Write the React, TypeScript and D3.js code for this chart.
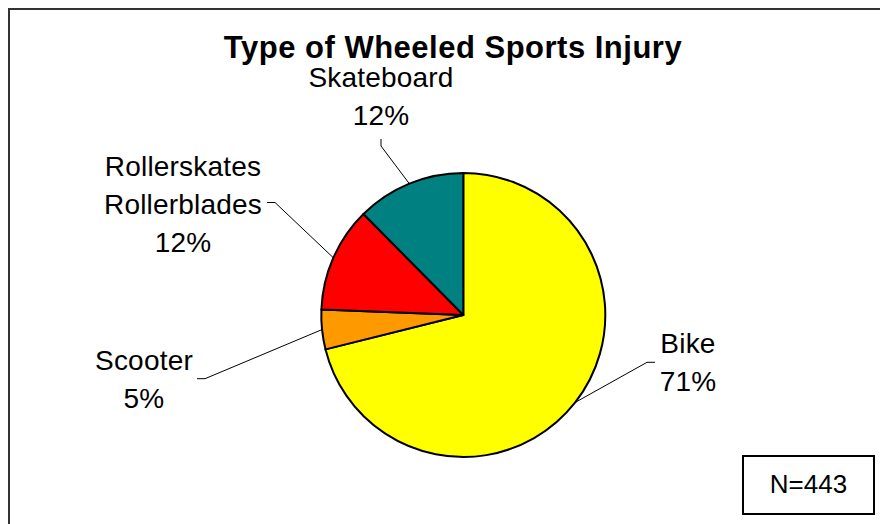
import React from "react";
import * as d3 from "d3";

const categories = ["Bike", "Scooter", "Rollerskates\nRollerblades", "Skateboard"];
const counts = [315, 20, 53, 55];
const percentLabels = ["71%", "5%", "12%", "12%"];
const colors = ["#FFFF00", "#FF9900", "#FF0000", "#008080"];
const title = "Type of Wheeled Sports Injury";
const note = "N=443";

// layout (label anchors and leader-line elbows)
const W = 880;
const H = 524;
const cx = 463.3;
const cy = 315;
const R = 142;
const labelLayout = [
  { x: 688, y: 353.3, elbow: [[655, 362.3], [647, 362.3]] },
  { x: 144, y: 370, elbow: [[197, 378.7], [205, 378.7]] },
  { x: 183, y: 176, elbow: [[267, 202.5], [275, 202.5]] },
  { x: 381, y: 87.3, elbow: [[381, 139], [381, 146]] },
];
const lineH = 38;
const font = "'Liberation Sans', Arial, Helvetica, sans-serif";

export default function App() {
  const pie = d3.pie<number>().sort(null).value((d) => d);
  const arcs = pie(counts);
  const arc = d3.arc<d3.PieArcDatum<number>>().innerRadius(0).outerRadius(R);

  return (
    <svg
      width={W}
      height={H}
      style={{ position: "absolute", left: 0, top: 0, background: "#fff" }}
    >
      <rect x={0} y={0} width={W} height={H} fill="#fff" />
      <rect
        x={9}
        y={9}
        width={W + 10}
        height={H + 10}
        fill="none"
        stroke="#333"
        strokeWidth={2}
      />
      <text
        x={453}
        y={58.3}
        textAnchor="middle"
        fontFamily={font}
        fontWeight="bold"
        fontSize={31}
        letterSpacing={0.5}
        fill="#000"
      >
        {title}
      </text>
      <g transform={`translate(${cx},${cy})`}>
        {arcs.map((a, i) => (
          <path
            key={i}
            d={arc(a) || ""}
            fill={colors[i]}
            stroke="#000"
            strokeWidth={2}
            strokeLinejoin="round"
          />
        ))}
      </g>
      {arcs.map((a, i) => {
        const mid = (a.startAngle + a.endAngle) / 2;
        const px = cx + R * Math.sin(mid);
        const py = cy - R * Math.cos(mid);
        const L = labelLayout[i];
        const pts = [...L.elbow, [px, py]];
        const lines = [...categories[i].split("\n"), percentLabels[i]];
        return (
          <g key={i}>
            <polyline
              points={pts.map((p) => p.join(",")).join(" ")}
              fill="none"
              stroke="#000"
              strokeWidth={1}
            />
            <text
              textAnchor="middle"
              fontFamily={font}
              fontSize={28}
              letterSpacing={0.2}
              fill="#000"
            >
              {lines.map((t, j) => (
                <tspan key={j} x={L.x} y={L.y + j * lineH}>
                  {t}
                </tspan>
              ))}
            </text>
          </g>
        );
      })}
      <rect
        x={743}
        y={456}
        width={131}
        height={58}
        fill="#fff"
        stroke="#000"
        strokeWidth={2}
      />
      <text
        x={808.5}
        y={493.3}
        textAnchor="middle"
        fontFamily={font}
        fontSize={26}
        fill="#000"
      >
        {note}
      </text>
    </svg>
  );
}
